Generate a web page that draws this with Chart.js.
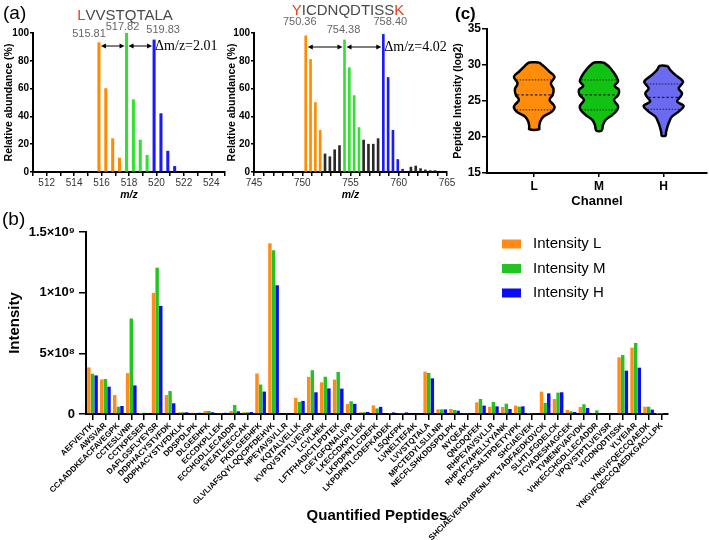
<!DOCTYPE html>
<html>
<head>
<meta charset="utf-8">
<title>SILAC peptide quantification</title>
<script src="https://cdn.jsdelivr.net/npm/chart.js@4.4.1/dist/chart.umd.min.js"></script>
<style>
  html, body { margin: 0; padding: 0; background: #fff; }
  #fig { position: relative; width: 709px; height: 540px; overflow: hidden; background: #fff; }
  #fig canvas { position: absolute; }
</style>
</head>
<body>
<div id="fig">
  <canvas id="specL" width="250" height="210" style="left:0;top:0"></canvas>
  <canvas id="specR" width="240" height="210" style="left:226px;top:0"></canvas>
  <canvas id="violin" width="269" height="215" style="left:440px;top:0"></canvas>
  <canvas id="bars" width="709" height="330" style="left:0;top:210px"></canvas>
</div>
<script>
// (a) isotope envelopes, LVVSTQTALA (z=2)
const lvvMzLight = [515.81, 516.31, 516.81, 517.31];
const lvvAbLight = [93, 60, 24, 10];
const lvvMzMed = [517.82, 518.32, 518.82, 519.32];
const lvvAbMed = [100, 52, 23, 12];
const lvvMzHeavy = [519.83, 520.33, 520.83, 521.33];
const lvvAbHeavy = [95, 42, 15, 4];

// (a) YICDNQDTISSK (z=2)
const yicMzLight = [750.36, 750.86, 751.36, 751.86];
const yicAbLight = [98, 81, 50, 30];
const yicMzMed = [754.38, 754.88, 755.38, 755.88];
const yicAbMed = [95, 75, 55, 32];
const yicMzHeavy = [758.40, 758.90, 759.40, 759.90, 760.40];
const yicAbHeavy = [99, 68, 30, 9, 2];
const yicMzOther = [752.36, 752.86, 753.36, 753.86, 756.36, 756.86, 757.36, 757.86, 761.26, 761.76, 762.26, 762.76, 763.26, 763.76];
const yicAbOther = [13, 11, 16, 19, 23, 20, 20, 24, 3.5, 4.3, 2.4, 1.5, 1, 1];

// (c) violin outlines: log2 level and half width
const channels = ['L', 'M', 'H'];
const violinY_L = [30.34, 29.78, 29.1, 28.39, 27.46, 26.63, 25.84, 25.15, 24.22, 23.53, 22.84, 22.14, 21.45, 21.08];
const violinW_L = [0.077, 0.155, 0.232, 0.314, 0.258, 0.299, 0.284, 0.237, 0.314, 0.273, 0.144, 0.093, 0.077, 0.077];
const violinY_M = [30.34, 29.78, 29.1, 28.39, 27.7, 27.1, 26.54, 25.84, 25.15, 24.31, 23.76, 23.06, 22.37, 21.67, 20.88];
const violinW_M = [0.072, 0.155, 0.216, 0.268, 0.294, 0.242, 0.309, 0.299, 0.232, 0.294, 0.283, 0.206, 0.103, 0.062, 0.041];
const violinY_H = [29.87, 29.31, 28.62, 27.69, 26.76, 26.07, 25.5, 24.92, 24.31, 23.53, 22.84, 21.91, 21.21, 20.61, 20.19];
const violinW_H = [0.062, 0.103, 0.18, 0.299, 0.232, 0.284, 0.25, 0.206, 0.309, 0.232, 0.129, 0.077, 0.052, 0.036, 0.03];
const quart_L = [23.76, 25.84, 27.93];
const quart_M = [23.76, 25.84, 27.93];
const quart_H = [23.85, 25.5, 27.36];

// (b) quantified peptides
const peptides = ['AEFVEVTK', 'AWSVAR', 'CCAADDKEACFAVEGPK', 'CCTESLVNR', 'CCTKPESER', 'DAFLGSFLYEYSR',
  'DDPHACYSTVFDK', 'DDPHACYSTVFDKLK', 'DDSPDLPK', 'DLGEEHFK', 'ECCDKPLLEK', 'ECCHGDLLECADDR',
  'EYEATLEECCAK', 'FKDLGEEHFK', 'GLVLIAFSQYLQQCPFDEHVK', 'HPEYAVSVLLR', 'KQTALVELLK',
  'KVPQVSTPTLVEVSR', 'LCVLHEK', 'LFTFHADICTLPDTEK', 'LGEYGFQNALIVR', 'LKECCDKPLLEK',
  'LKPDPNTLCDEFK', 'LKPDPNTLCDEFKADEK', 'LSQKFPK', 'LVNELTEFAK', 'LVVSTQTALA', 'MPCTEDYLSLILNR',
  'NECFLSHKDDSPDLPK', 'NYQEAK', 'QNCDQFEK', 'RHPEYAVSVLLR', 'RHPYFYAPELLYYANK', 'RPCFSALTPDETYVPK',
  'SHCIAEVEK', 'SHCIAEVEKDAIPENLPPLTADFAEDKDVCK', 'SLHTLFGDELCK', 'TCVADESHAGCEK', 'TVMENFVAFVDK',
  'VHKECCHGDLLECADDR', 'VPQVSTPTLVEVSR', 'YICDNQDTISSK', 'YLYEIAR', 'YNGVFQECCQAEDK',
  'YNGVFQECCQAEDKGACLLPK'];
const intensityL = [3.84e8, 2.85e8, 1.56e8, 3.37e8, 0.01e8, 9.98e8, 1.56e8, 0.14e8, 0.10e8, 0.25e8,
  0.08e8, 0.25e8, 0.14e8, 3.34e8, 14.07e8, 0, 1.33e8, 3.06e8, 2.61e8, 2.84e8,
  0.82e8, 0.15e8, 0.71e8, 0.07e8, 0.08e8, 0, 3.49e8, 0.38e8, 0.41e8, 0.08e8,
  0.96e8, 0.60e8, 0.58e8, 0.69e8, 0.02e8, 1.84e8, 1.24e8, 0.33e8, 0.58e8, 0.08e8,
  0, 4.67e8, 5.47e8, 0.60e8, 0.01e8];
const intensityM = [3.32e8, 2.88e8, 0.60e8, 7.87e8, 0.10e8, 12.06e8, 1.89e8, 0.14e8, 0.05e8, 0.25e8,
  0.08e8, 0.74e8, 0.14e8, 2.43e8, 13.49e8, 0, 1.00e8, 3.61e8, 3.07e8, 3.46e8,
  1.05e8, 0.15e8, 0.46e8, 0.03e8, 0.03e8, 0, 3.38e8, 0.38e8, 0.33e8, 0.08e8,
  1.24e8, 0.99e8, 0.85e8, 0.60e8, 0.08e8, 0.92e8, 1.76e8, 0.22e8, 0.80e8, 0.30e8,
  0, 4.86e8, 5.85e8, 0.60e8, 0.01e8];
const intensityH = [3.18e8, 2.25e8, 0.66e8, 2.36e8, 0.01e8, 8.91e8, 0.88e8, 0.14e8, 0.10e8, 0.14e8,
  0.10e8, 0.22e8, 0.16e8, 1.85e8, 10.61e8, 0, 1.08e8, 1.79e8, 2.11e8, 2.09e8,
  0.84e8, 0.17e8, 0.59e8, 0.13e8, 0.13e8, 0, 2.94e8, 0.38e8, 0.27e8, 0.03e8,
  0.69e8, 0.63e8, 0.41e8, 0.63e8, 0.02e8, 1.70e8, 1.79e8, 0.16e8, 0.49e8, 0.08e8,
  0, 3.57e8, 3.82e8, 0.36e8, 0.03e8];

const SANS = 'Arial, "Liberation Sans", Helvetica, sans-serif';
const SERIF = '"Liberation Serif", "Times New Roman", serif';
const RED = '#e8401c', GRAY = '#4a4a4a';

Chart.defaults.font.family = SANS;
Chart.defaults.color = '#000';

const toXY = (xs, ys) => xs.map((x, i) => ({ x: x, y: ys[i] }));
const fixW = w => s => { s.width = w; };
const fixH = h => s => { s.height = h; };

function axisLines(tickLength) {
  return {
    border: { display: true, color: '#000', width: 2 },
    grid: { display: true, drawOnChartArea: false, drawTicks: true, tickLength: tickLength, color: '#000', lineWidth: 1.5, offset: false }
  };
}

function drawParts(ctx, parts, cx, cy, font) {
  ctx.font = font;
  const total = parts.reduce((s, p) => s + ctx.measureText(p[0]).width, 0);
  let x = cx - total / 2;
  ctx.textAlign = 'left';
  ctx.textBaseline = 'middle';
  parts.forEach(p => { ctx.fillStyle = p[1]; ctx.fillText(p[0], x, cy); x += ctx.measureText(p[0]).width; });
}

function arrow(ctx, x1, x2, y) {
  ctx.strokeStyle = '#000'; ctx.fillStyle = '#000'; ctx.lineWidth = 1;
  ctx.beginPath(); ctx.moveTo(x1 + 3, y); ctx.lineTo(x2 - 3, y); ctx.stroke();
  ctx.beginPath(); ctx.moveTo(x1, y); ctx.lineTo(x1 + 5, y - 2.5); ctx.lineTo(x1 + 5, y + 2.5); ctx.fill();
  ctx.beginPath(); ctx.moveTo(x2, y); ctx.lineTo(x2 - 5, y - 2.5); ctx.lineTo(x2 - 5, y + 2.5); ctx.fill();
}

// titles, peak labels, arrows for the spectra
const specNotes = {
  id: 'specNotes',
  afterDraw(chart, args, o) {
    const ctx = chart.ctx, xs = chart.scales.x;
    ctx.save();
    if (o.panel) {
      ctx.font = '19px ' + SANS; ctx.fillStyle = '#000';
      ctx.textAlign = 'left'; ctx.textBaseline = 'middle';
      ctx.fillText(o.panel, 3, 14);
    }
    ctx.font = '11px ' + SANS; ctx.fillStyle = '#666'; ctx.textAlign = 'center'; ctx.textBaseline = 'middle';
    o.mono.forEach((mz, i) => ctx.fillText(mz.toFixed(2), xs.getPixelForValue(mz) + o.labelDx[i], o.labelY[i]));
    drawParts(ctx, o.title, o.titleX, o.titleY, '15px ' + SANS);
    for (let i = 0; i < o.mono.length - 1; i++) {
      arrow(ctx, xs.getPixelForValue(o.mono[i]) + 2, xs.getPixelForValue(o.mono[i + 1]) - 2, o.arrowY);
    }
    ctx.font = '14px ' + SERIF; ctx.fillStyle = '#000'; ctx.textAlign = 'left';
    ctx.fillText('\u0394m/z=' + (o.mono[1] - o.mono[0]).toFixed(2), xs.getPixelForValue(o.mono[2]) + 1, o.arrowY);
    ctx.restore();
  }
};

function spectrumOptions(xmin, xmax, labelEvery, yWidth, titlePad, padRight, notes) {
  return {
    responsive: false, animation: false, devicePixelRatio: 1,
    layout: { padding: { top: 33, right: padRight, left: 0, bottom: 0 } },
    datasets: { bar: { grouped: false } },
    plugins: { legend: { display: false }, tooltip: { enabled: false }, specNotes: notes },
    scales: {
      x: Object.assign(axisLines(4), {
        type: 'linear', min: xmin, max: xmax, offset: false, afterFit: fixH(38),
        ticks: { stepSize: 1, autoSkip: false, maxRotation: 0, color: '#333', font: { size: 10 }, padding: 1,
          callback: v => (v % labelEvery === 0 ? String(v) : '') },
        title: { display: true, text: 'm/z', font: { size: 10.5, style: 'italic', weight: 'bold' }, padding: { top: 0, bottom: 9 } }
      }),
      y: Object.assign(axisLines(3), {
        min: 0, max: 100, afterFit: fixW(yWidth),
        ticks: { stepSize: 20, font: { size: 10, weight: 'bold' }, padding: 1 },
        title: { display: true, text: 'Relative abundance (%)', font: { size: 10.5, weight: 'bold' }, padding: { top: titlePad, bottom: 0 } }
      })
    }
  };
}

new Chart(document.getElementById('specL'), {
  type: 'bar',
  data: { datasets: [
    { data: toXY(lvvMzLight, lvvAbLight), backgroundColor: '#ff8c00', barThickness: 2.4 },
    { data: toXY(lvvMzMed, lvvAbMed), backgroundColor: '#33e033', barThickness: 2.4 },
    { data: toXY(lvvMzHeavy, lvvAbHeavy), backgroundColor: '#1a1aff', barThickness: 2.4 }
  ] },
  options: spectrumOptions(511, 525, 2, 33, 3, 25, {
    panel: '(a)', title: [['L', RED], ['VVSTQTALA', GRAY]], titleX: 125, titleY: 16,
    mono: [lvvMzLight[0], lvvMzMed[0], lvvMzHeavy[0]], labelDx: [-10, -4, 9], labelY: [34, 27, 30], arrowY: 46
  }),
  plugins: [specNotes]
});

new Chart(document.getElementById('specR'), {
  type: 'bar',
  data: { datasets: [
    { data: toXY(yicMzLight, yicAbLight), backgroundColor: '#ff8c00', barThickness: 2 },
    { data: toXY(yicMzMed, yicAbMed), backgroundColor: '#33e033', barThickness: 2 },
    { data: toXY(yicMzHeavy, yicAbHeavy), backgroundColor: '#1a1aff', barThickness: 2 },
    { data: toXY(yicMzOther, yicAbOther), backgroundColor: '#2a2a2a', barThickness: 2 }
  ] },
  options: spectrumOptions(745, 765, 5, 28, 0, 19, {
    title: [['Y', RED], ['ICDNQDTISS', GRAY], ['K', RED]], titleX: 122, titleY: 11,
    mono: [yicMzLight[0], yicMzMed[0], yicMzHeavy[0]], labelDx: [-6, -1, 7], labelY: [22, 30, 22], arrowY: 47
  }),
  plugins: [specNotes]
});

// (c) violins
function outline(center, ys, ws) {
  const right = ys.map((y, i) => ({ x: center + ws[i], y: y }));
  const left = ys.map((y, i) => ({ x: center - ws[i], y: y })).reverse();
  return right.concat(left, [right[0]]);
}
function widthAt(ys, ws, q) {
  for (let i = 0; i < ys.length - 1; i++) {
    if (q <= ys[i] && q >= ys[i + 1]) {
      const t = (ys[i] - q) / (ys[i] - ys[i + 1]);
      return ws[i] + t * (ws[i + 1] - ws[i]);
    }
  }
  return 0;
}
const violinColors = ['#ff8c0a', '#12c212', '#6b6bf2'];
const violinSets = [];
[[violinY_L, violinW_L, quart_L], [violinY_M, violinW_M, quart_M], [violinY_H, violinW_H, quart_H]].forEach((v, i) => {
  const c = i + 1;
  violinSets.push({ data: outline(c, v[0], v[1]), showLine: true, fill: 'shape', backgroundColor: violinColors[i],
    borderColor: '#000', borderWidth: 2.5, tension: 0.35, pointRadius: 0, order: 1 });
  v[2].forEach((q, k) => {
    const w = widthAt(v[0], v[1], q) - 0.015;
    violinSets.push({ data: [{ x: c - w, y: q }, { x: c + w, y: q }], showLine: true, fill: false,
      borderColor: '#222', borderWidth: k === 1 ? 1.3 : 1, borderDash: k === 1 ? [2.5, 2] : [1.5, 1.5],
      pointRadius: 0, order: 0 });
  });
});

const panelLabel = {
  id: 'panelLabel',
  afterDraw(chart, args, o) {
    const ctx = chart.ctx;
    ctx.save();
    ctx.font = o.font; ctx.fillStyle = '#000'; ctx.textAlign = 'left'; ctx.textBaseline = 'middle';
    ctx.fillText(o.text, o.x, o.y);
    ctx.restore();
  }
};

new Chart(document.getElementById('violin'), {
  type: 'scatter',
  data: { datasets: violinSets },
  options: {
    responsive: false, animation: false, devicePixelRatio: 1,
    layout: { padding: { top: 29, right: 2, left: 0, bottom: 0 } },
    plugins: { legend: { display: false }, tooltip: { enabled: false },
      panelLabel: { text: '(c)', x: 15, y: 14, font: 'bold 17px ' + SANS } },
    scales: {
      x: Object.assign(axisLines(4), {
        type: 'linear', min: 0.27, max: 3.67, afterFit: fixH(42),
        afterBuildTicks: s => { s.ticks = channels.map((c, i) => ({ value: i + 1 })); },
        ticks: { autoSkip: false, maxRotation: 0, font: { size: 12, weight: 'bold' }, padding: 2,
          callback: v => channels[Math.round(v) - 1] },
        title: { display: true, text: 'Channel', font: { size: 13, weight: 'bold' }, padding: { top: 0, bottom: 6 } }
      }),
      y: Object.assign(axisLines(5), {
        min: 15, max: 35, afterFit: fixW(47),
        ticks: { stepSize: 5, font: { size: 12, weight: 'bold' }, padding: 1 },
        title: { display: true, text: 'Peptide Intensity (log2)', font: { size: 10.5, weight: 'bold' }, padding: { top: 12, bottom: 0 } }
      })
    }
  },
  plugins: [panelLabel]
});

// (b) grouped bars
const SUP = '\u2070\u00b9\u00b2\u00b3\u2074\u2075\u2076\u2077\u2078\u2079';
function sciLabel(v) {
  if (v === 0) return '0';
  const e = Math.floor(Math.log10(v) + 1e-9);
  const m = +(v / Math.pow(10, e)).toFixed(2);
  return m + '\u00d710' + String(e).split('').map(d => SUP[+d]).join('');
}

const boxLegend = {
  id: 'boxLegend',
  afterDraw(chart, args, o) {
    const ctx = chart.ctx;
    ctx.save();
    ctx.font = '15px ' + SANS; ctx.textAlign = 'left'; ctx.textBaseline = 'middle';
    chart.data.datasets.forEach((ds, i) => {
      const y = o.y + i * o.gap;
      ctx.fillStyle = ds.backgroundColor;
      ctx.fillRect(o.x, y - 4.5, 19, 9);
      ctx.fillStyle = '#000';
      ctx.fillText(ds.label, o.x + 31, y);
    });
    ctx.font = '19px ' + SANS;
    ctx.fillText('(b)', 2, 10);
    ctx.restore();
  }
};

new Chart(document.getElementById('bars'), {
  type: 'bar',
  data: {
    labels: peptides,
    datasets: [
      { label: 'Intensity L', data: intensityL, backgroundColor: '#ff8c1a' },
      { label: 'Intensity M', data: intensityM, backgroundColor: '#22c322' },
      { label: 'Intensity H', data: intensityH, backgroundColor: '#0c0cf2' }
    ]
  },
  options: {
    responsive: false, animation: false, devicePixelRatio: 1,
    layout: { padding: { top: 22, right: 41, left: 0, bottom: 0 } },
    datasets: { bar: { categoryPercentage: 0.84, barPercentage: 0.95 } },
    plugins: { legend: { display: false }, tooltip: { enabled: false }, boxLegend: { x: 502, y: 34, gap: 24.5 } },
    scales: {
      x: Object.assign(axisLines(6), {
        afterFit: fixH(126),
        ticks: { autoSkip: false, minRotation: 45, maxRotation: 45, font: { size: 8, weight: 'bold' }, padding: 1 },
        title: { display: true, text: 'Quantified Peptides', font: { size: 15, weight: 'bold' }, padding: { top: 0, bottom: 15 } }
      }),
      y: Object.assign(axisLines(7), {
        min: 0, max: 1.5e9, afterFit: fixW(86),
        ticks: { stepSize: 5e8, font: { size: 13, weight: 'bold' }, padding: 4, callback: v => sciLabel(v) },
        title: { display: true, text: 'Intensity', font: { size: 15, weight: 'bold' }, padding: { top: 6, bottom: 0 } }
      })
    }
  },
  plugins: [boxLegend]
});
</script>
</body>
</html>
